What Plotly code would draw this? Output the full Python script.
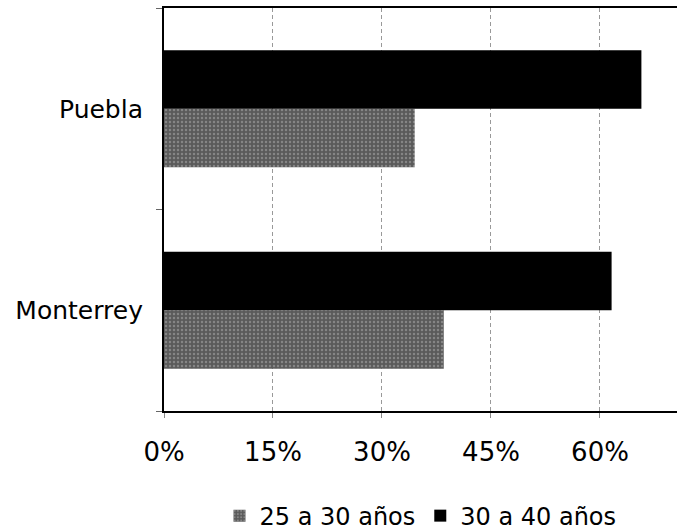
import plotly.graph_objects as go

categories = ["Monterrey", "Puebla"]
series_names = ["25 a 30 años", "30 a 40 años"]
vals_25_30 = [38.5, 34.5]
vals_30_40 = [61.6, 65.7]
tick_vals = [0, 15, 30, 45, 60]
tick_text = ["0%", "15%", "30%", "45%", "60%"]

font = "DejaVu Sans, Verdana, sans-serif"

fig = go.Figure()
fig.add_trace(go.Bar(
    y=categories, x=vals_25_30, orientation="h", name=series_names[0],
    marker=dict(color="#5a5a5a", line=dict(width=0),
                pattern=dict(shape=".", fgcolor="#b0b0b0", size=4, solidity=0.3)),
))
fig.add_trace(go.Bar(
    y=categories, x=vals_30_40, orientation="h", name=series_names[1],
    marker=dict(color="#000000", line=dict(width=0)),
))

fig.update_layout(
    width=677, height=532,
    margin=dict(l=164, r=0, t=8, b=121),
    barmode="group", bargap=0.42, bargroupgap=0,
    plot_bgcolor="white", paper_bgcolor="white",
    font=dict(family=font, size=25, color="black"),
    legend=dict(orientation="h", yref="container",
                x=0.5, xanchor="center", y=0.03, yanchor="middle",
                font=dict(size=24), traceorder="normal"),
)
fig.update_xaxes(
    range=[0, 70.6], tickvals=tick_vals, ticktext=tick_text,
    showgrid=True, gridcolor="#999999", griddash="4px,3px", gridwidth=1,
    showline=True, linecolor="black", linewidth=2, mirror=True,
    ticks="outside", ticklen=5, tickcolor="#888888",
    ticklabelstandoff=12, zeroline=False, tickfont=dict(size=26),
)
fig.update_yaxes(
    showline=True, linecolor="black", linewidth=2,
    ticks="outside", ticklen=6, tickson="boundaries", tickcolor="#666666",
    ticklabelstandoff=14, showgrid=False,
)

fig.write_html("out.html")
